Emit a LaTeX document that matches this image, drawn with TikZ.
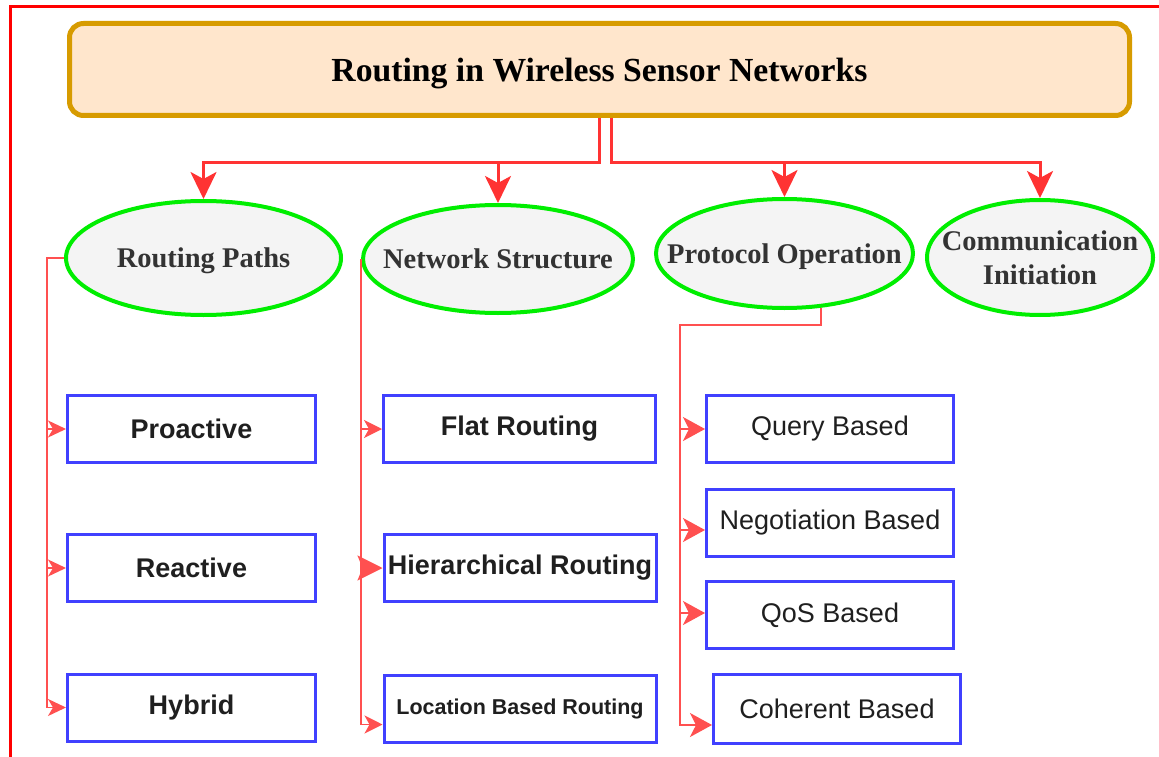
\documentclass[tikz,border=0pt]{standalone}
\usepackage{fontspec}
\setmainfont{Liberation Serif}
\setsansfont{Liberation Sans}
\usepackage{tikz}
\usetikzlibrary{shapes.geometric,arrows.meta,calc}
\definecolor{wsnred}{HTML}{FF3333}
\definecolor{wsnthin}{HTML}{FF5050}
\definecolor{wsnorange}{HTML}{D79B00}
\definecolor{wsnpeach}{HTML}{FFE6CC}
\definecolor{wsngreen}{HTML}{00EE00}
\definecolor{wsngray}{HTML}{F4F4F4}
\definecolor{wsnblue}{HTML}{4040FF}
\definecolor{wsntext}{HTML}{333333}

\begin{document}
\begin{tikzpicture}[x=1pt,y=-1pt,
    kind/.style={ellipse,draw=wsngreen,fill=wsngray,line width=4pt,inner sep=0pt},
    kindtext/.style={text=wsntext,align=center,inner sep=0pt,font=\bfseries\fontsize{28.5}{34}\selectfont},
    leaf/.style={rectangle,draw=wsnblue,fill=white,line width=3pt,inner sep=0pt,
      minimum height=67pt,text=black!88,font=\sffamily\fontsize{27}{32}\selectfont},
    main/.style={draw=wsnred,line width=3pt,-{Stealth[length=27pt,width=26pt,inset=7pt]}},
    sub/.style={draw=wsnthin,line width=1.5pt}]
       \fill[white](0,0)rectangle(1159,757);%背景
       \useasboundingbox(0,0)rectangle(1159,757);
       \draw[red,line width=3.5pt](1159,6.5)--(10.5,6.5)--(10.5,757);%外枠

       \node[draw=wsnorange,fill=wsnpeach,line width=5pt,rounded corners=14pt,
         minimum width=1060pt,minimum height=92pt,text depth=0pt,
         font=\bfseries\fontsize{33.7}{40}\selectfont](title)at(599.5,69.5)
         {Routing in Wireless Sensor Networks};%タイトル

       \node[kind,minimum width=275pt,minimum height=114pt,
         label={[kindtext,text depth=0pt]center:Routing Paths}](RP)at(203.5,258){};
       \node[kind,minimum width=270pt,minimum height=108pt,
         label={[kindtext,text depth=0pt]center:Network Structure}](NS)at(498,259){};
       \node[kind,minimum width=257pt,minimum height=109pt,
         label={[kindtext,text depth=0pt]center:Protocol Operation}](PO)at(784.5,253.5){};
       \node[kind,minimum width=226pt,minimum height=115pt,
         label={[kindtext]center:{Communication\\Initiation}}](CI)at(1040,257.5){};

       \foreach \n/\t/\y in{pro/Proactive/429,rea/Reactive/568,hyb/Hybrid/707.5}
           \node[leaf,minimum width=248pt,font=\sffamily\bfseries\fontsize{27}{32}\selectfont](\n)at(191.5,\y){\t};%列1
       \node[leaf,minimum width=272pt,font=\sffamily\bfseries\fontsize{27}{32}\selectfont](flat)at(519.5,429){Flat Routing};
       \node[leaf,minimum width=272pt,font=\sffamily\bfseries\fontsize{27}{32}\selectfont](hier)at(520,568){Hierarchical Routing};
       \node[leaf,minimum width=272pt,font=\sffamily\bfseries\fontsize{21.5}{26}\selectfont](loc)at(520,708.5){Location Based Routing};
       \foreach \n/\t/\y in{qry/Query Based/429,neg/Negotiation Based/522.5,qos/QoS Based/615}
           \node[leaf,minimum width=247pt](\n)at(830,\y){\t};%列3
       \node[leaf,minimum width=247pt,minimum height=69pt](coh)at(837,709){Coherent Based};

       \coordinate(tl)at(599,162);%左の分岐
       \coordinate(tr)at(611,162);%右の分岐
       \draw[main](title.south-|tl)--(tl)-|(RP.north);
       \draw[main](title.south-|tl)--(tl)-|(NS.north);
       \draw[main](title.south-|tr)--(tr)-|(PO.north);
       \draw[main](title.south-|tr)--(tr)-|(CI.north);

       \coordinate(c1)at(47,258);%列1の縦線
       \foreach \b in{pro,rea,hyb}
           \draw[sub,-{Stealth[length=18pt,width=17pt,inset=5pt]}](RP.west)--(c1)|-(\b.west);
       \foreach \b/\s/\l in{flat/0/18,hier/0/25,loc/-16/18}
           \draw[sub,-{Stealth[length=\l pt,width=\l pt,inset=5pt]}](NS.west)|-([yshift=\s pt]\b.west);
       \coordinate(c3)at(680,325);%列3の折れ点
       \foreach \b/\s in{qry/0,neg/-7.5,qos/2,coh/-16}
           \draw[sub,-{Stealth[length=22pt,width=24pt,inset=6pt]}](PO.-56)|-(c3)|-([yshift=\s pt]\b.west);

      \end{tikzpicture}
\end{document}
